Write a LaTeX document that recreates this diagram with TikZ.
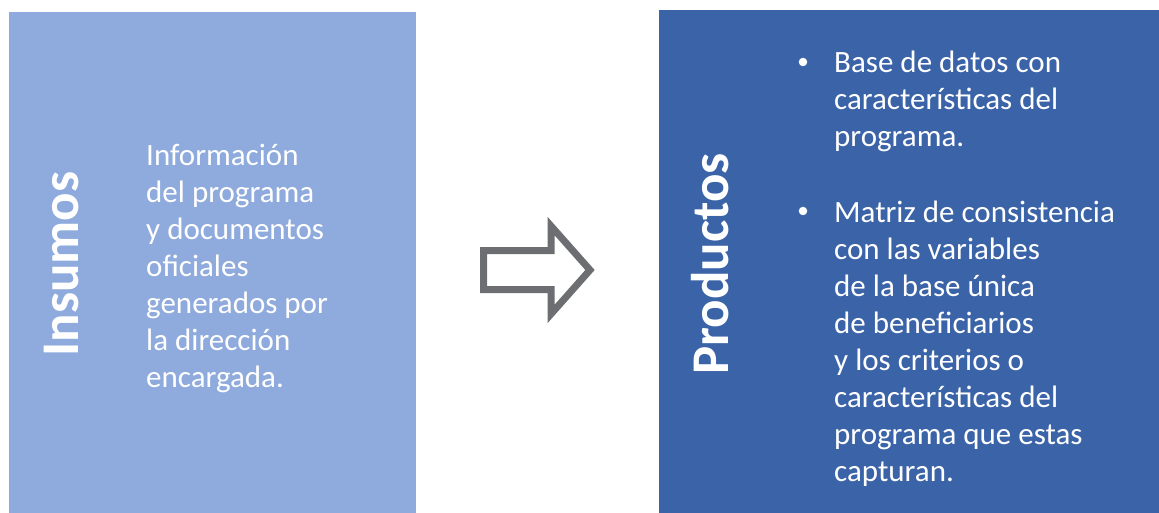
\documentclass[tikz,border=0pt]{standalone}
\usepackage{fontspec}
\setmainfont{Carlito}
\definecolor{insumoblue}{HTML}{8FAADC}
\definecolor{productoblue}{HTML}{3B63A8}
\definecolor{arrowgray}{HTML}{6D6E71}
\begin{document}
\begin{tikzpicture}[x=1pt, y=-1pt, font=\fontsize{31}{37}\selectfont,
	title/.style={text=white, rotate=90, anchor=base, inner sep=0, font=\fontsize{53}{60}\selectfont\bfseries},
	body/.style={text=white, anchor=base west, align=left, inner sep=0}]
		
		\useasboundingbox (0,0) rectangle (1159,513);
		
		\fill[insumoblue] (8.5,12) rectangle (416,513);
		\fill[productoblue] (659,10) rectangle (1159,513);
		
		\node[title] (tin) at (78,264) {Insumos};
		\node[title] (tprod) at (728,264) {Productos};
		
		% base anchor sits on the last line
		\node[body] (insumos) at (146,387) {Información\\del programa\\y documentos\\oficiales\\generados por\\la dirección\\encargada.};
		
		\node[body] (prod1) at (834,147) {Base de datos con\\características del\\programa.};
		\node[body] (prod2) at (834,481) {Matriz de consistencia\\con las variables\\de la base única\\de beneficiarios\\y los criterios o\\características del\\programa que estas\\capturan.};
		
		\foreach \n/\y in {1/62, 2/211} {
			\node[circle, fill=white, inner sep=0, minimum size=8.5pt] (bul\n) at (803,\y) {};
		}
		
		\draw[arrowgray, line width=7pt, miter limit=10]
		(483.5,250.5) -- (551,250.5) -- (551,226) -- (590,270) -- (551,314) -- (551,289.5) -- (483.5,289.5) -- cycle;
		
	\end{tikzpicture}
\end{document}
